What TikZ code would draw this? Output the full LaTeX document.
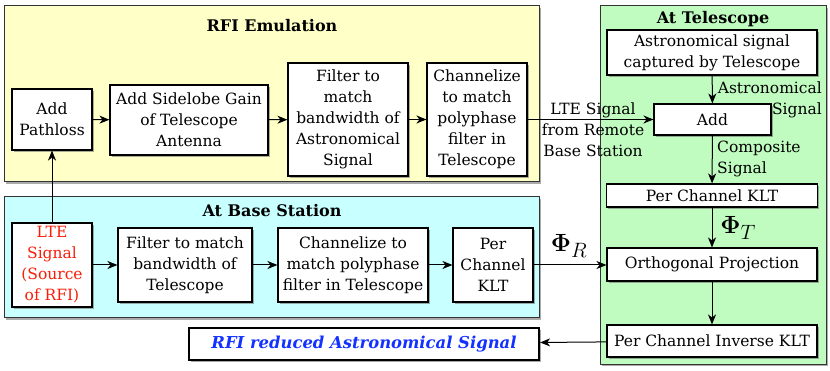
\documentclass[tikz,border=0pt]{standalone}
\usepackage[no-math]{fontspec}
\setmainfont{DejaVu Serif}
\usetikzlibrary{arrows.meta,shadows}
\definecolor{emulbg}{RGB}{255,255,200}
\definecolor{basebg}{RGB}{200,255,255}
\definecolor{telebg}{RGB}{192,252,192}
\definecolor{ltered}{RGB}{250,30,10}
\definecolor{outblue}{RGB}{20,50,255}
\begin{document}
\begin{tikzpicture}[x=1pt,y=-1pt,
  shd/.style={drop shadow={shadow xshift=1.8pt,shadow yshift=-1.8pt,fill=black!60,opacity=0.55}},
  panel/.style={draw=black!80,line width=1pt,shd,inner sep=0pt},
  blk/.style={draw=black,line width=1.1pt,fill=white,shd,align=center,inner sep=0pt,
    font=\fontsize{15.5}{21}\selectfont},
  ttl/.style={font=\fontsize{16}{21}\selectfont\bfseries},
  lbl/.style={font=\fontsize{15.5}{21}\selectfont,inner sep=0pt},
  phi/.style={font=\fontsize{24.88}{28}\selectfont,inner sep=0pt},
  arr/.style={-{Stealth[length=10pt,width=8pt,inset=3pt]},line width=1pt}]
\useasboundingbox (0,0) rectangle (830,371);
% panels
\node[panel,fill=emulbg,minimum width=535pt,minimum height=176pt] (emul) at (271.5,94) {};
\node[panel,fill=basebg,minimum width=535pt,minimum height=121pt] (base) at (271.5,257.5) {};
\node[panel,fill=telebg,minimum width=226pt,minimum height=358pt] (tele) at (713,185) {};
\node[ttl] (temul) at (272,26) {RFI Emulation};
\node[ttl] (tbase) at (272,211) {At Base Station};
\node[ttl] (ttele) at (713,19) {At Telescope};
% emulation blocks
\node[blk,minimum width=80pt,minimum height=61pt] (pathloss) at (52,119.5) {Add\\Pathloss};
\node[blk,minimum width=158pt,minimum height=70pt] (sidelobe) at (189,120) {Add Sidelobe Gain\\of Telescope\\Antenna};
\node[blk,minimum width=120pt,minimum height=113pt] (filtA) at (348,119.5) {Filter to\\match\\bandwidth of\\Astronomical\\Signal};
\node[blk,minimum width=100pt,minimum height=113pt] (chanA) at (477,119.5) {Channelize\\to match\\polyphase\\filter in\\Telescope};
% telescope blocks
\node[blk,minimum width=210pt,minimum height=45pt] (astro) at (712,52.5) {Astronomical signal\\captured by Telescope};
\node[blk,minimum width=117pt,minimum height=31pt] (add) at (712.5,119.5) {Add};
\node[blk,minimum width=211pt,minimum height=23pt] (kltT) at (712,195.5) {Per Channel KLT};
\node[blk,minimum width=210pt,minimum height=33pt] (ortho) at (712,264.5) {Orthogonal Projection};
\node[blk,minimum width=210pt,minimum height=32pt] (inv) at (712,341) {Per Channel Inverse KLT};
% base station blocks
\node[blk,minimum width=80pt,minimum height=84pt,text=ltered] (lte) at (52,265) {LTE\\Signal\\(Source\\of RFI)};
\node[blk,minimum width=134pt,minimum height=74pt] (filtB) at (185,265) {Filter to match\\bandwidth of\\Telescope};
\node[blk,minimum width=150pt,minimum height=74pt] (chanB) at (353,265) {Channelize to\\match polyphase\\filter in Telescope};
\node[blk,minimum width=80pt,minimum height=74pt] (kltB) at (493,265) {Per\\Channel\\KLT};
% output
\node[blk,line width=2.2pt,minimum width=350pt,minimum height=32pt,text=outblue,font=\fontsize{16.4}{21}\selectfont\bfseries\itshape] (out) at (364,344) {RFI reduced Astronomical Signal};
% arrows
\draw[arr] (pathloss) -- (sidelobe);
\draw[arr] (sidelobe) -- (filtA);
\draw[arr] (filtA) -- (chanA);
\draw[arr] (chanA) -- (add);
\node[lbl,align=center] (ltelbl) at (593,130) {LTE Signal\\from Remote\\Base Station};
\draw[arr] (astro) -- (add);
\node[lbl,align=right,anchor=east] (astlbl) at (822,100) {Astronomical\\Signal};
\draw[arr] (add) -- (kltT);
\node[lbl,align=left,anchor=west] (complbl) at (717,159) {Composite\\Signal};
\draw[arr] (kltT) -- (ortho);
\node[phi] (phiT) at (738,228) {$\mathbf{\Phi}_T$};
\draw[arr] (ortho) -- (inv);
\draw[arr] (inv) -- (out);
\draw[arr] (lte) -- (pathloss);
\draw[arr] (lte) -- (filtB);
\draw[arr] (filtB) -- (chanB);
\draw[arr] (chanB) -- (kltB);
\draw[arr] (kltB) -- (kltB -| ortho.west);
\node[phi] (phiR) at (569,246) {$\mathbf{\Phi}_R$};
\end{tikzpicture}
\end{document}
